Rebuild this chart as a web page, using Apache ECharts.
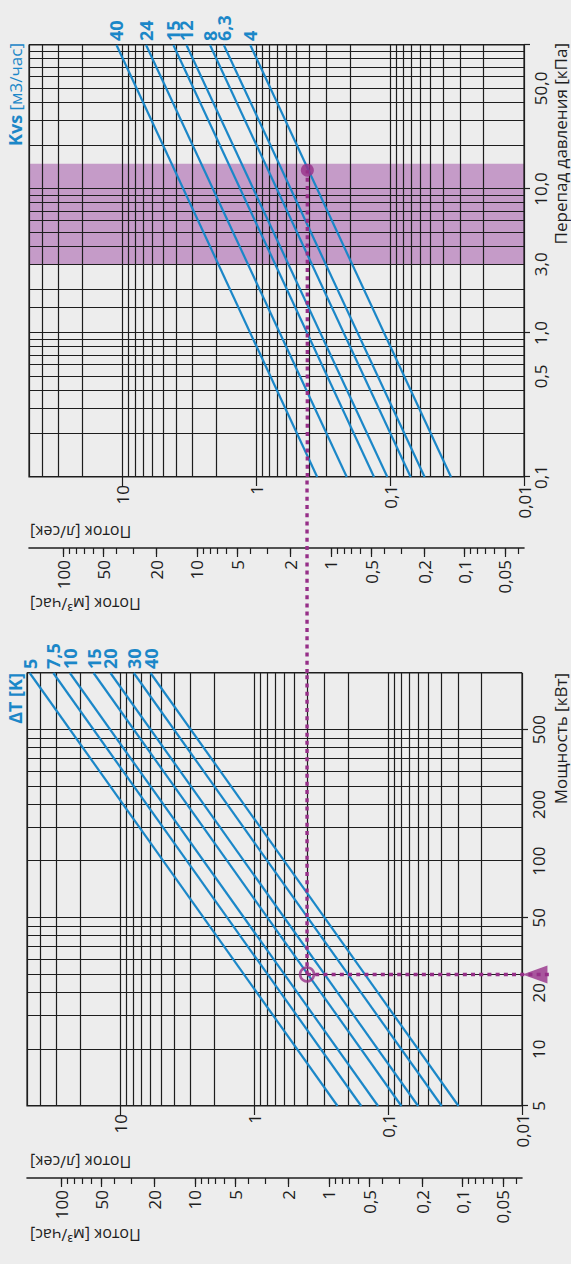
<!DOCTYPE html>
<html>
<head>
<meta charset="utf-8">
<script src="https://cdn.jsdelivr.net/npm/echarts@6/dist/echarts.min.js"></script>
<style>
html, body { margin: 0; padding: 0; background: #ededed; overflow: hidden; }
/* chart is laid out landscape and turned a quarter turn, like the printed nomogram */
#wrap { position: absolute; left: 0; top: 0; width: 1264px; height: 571px;
        transform-origin: 0 0; transform: translateY(1264px) rotate(-90deg); }
</style>
</head>
<body>
<div id="wrap"></div>
<script>
// ---- axis values ----
var powerGrid = [5, 10, 15, 20, 25, 30, 35, 40, 45, 50, 100, 150, 200, 250, 300, 350, 400, 450, 500, 1000];
var powerTicks = [5, 50, 500];
var powerLabels = [5, 10, 20, 50, 100, 200, 500];
var flowGrid = [0.01, 0.02, 0.03, 0.04, 0.05, 0.06, 0.07, 0.08, 0.09, 0.1, 0.2, 0.3, 0.4, 0.5, 0.6, 0.7, 0.8, 0.9,
                1, 2, 3, 4, 5, 6, 7, 8, 9, 10, 20, 30, 40, 50];
var flowLabels = [0.01, 0.1, 1, 10];
var m3hMinor = [0.04, 0.05, 0.06, 0.07, 0.08, 0.09, 0.1, 0.2, 0.3, 0.4, 0.5, 0.6, 0.7, 0.8, 0.9,
                1, 2, 3, 4, 5, 6, 7, 8, 9, 10, 20, 30, 40, 50, 60, 70, 80, 90, 100];
var m3hLabels = [0.05, 0.1, 0.2, 0.5, 1, 2, 5, 10, 20, 50, 100];
var pressureGrid = [0.1, 0.2, 0.3, 0.4, 0.5, 0.6, 0.7, 0.8, 0.9, 1, 1.5, 2, 3, 4, 5, 6, 7, 8, 9,
                    10, 20, 30, 40, 50, 60, 70, 80, 90, 100];
var pressureTicks = [0.1, 1, 10, 100];
var pressureLabels = [0.1, 0.5, 1, 3, 10, 50];

// ---- lines ----
var dtNames = ['5', '7,5', '10', '15', '20', '30', '40'];
var dtFlowAt5kW = [0.239, 0.159, 0.119, 0.0796, 0.0597, 0.0398, 0.0298];
var dtFlowAt1000kW = [47.7, 31.8, 23.9, 15.9, 11.9, 7.96, 5.97];
var kvsNames = ['40', '24', '15', '12', '8', '6,3', '4'];
var kvsFlowAt01kPa = [0.351, 0.211, 0.132, 0.105, 0.0703, 0.0553, 0.0351];
var kvsFlowAt100kPa = [11.1, 6.67, 4.17, 3.33, 2.22, 1.75, 1.11];
var bandPressure = [3, 15];

// ---- worked example ----
var markPower = 25;
var markFlow = [0.404, 0.416];   // read on left / right panel
var markPressure = 13.5;
var arrowFlow = 0.008;
var arrowTailFlow = 0.0061;

var FONT = '"Open Sans", "Noto Sans", sans-serif';
var INK = '#1e1e1e';
var BLUE = '#1b87c8';
var PURPLE = '#962f88';
var BAND = '#c59bc8';
var TICK_FS = 17;

function comma(v) { return String(+(+v).toPrecision(6)).replace('.', ','); }
function comma1(v) { return (+v).toFixed(1).replace('.', ','); }

function gridAxis(gi, min, max, vals, extra) {
  return Object.assign({
    type: 'log', logBase: 10, gridIndex: gi, min: min, max: max,
    axisLine: { show: false },
    axisTick: { show: false, customValues: vals },
    axisLabel: { show: false },
    splitLine: { show: true, customValues: vals, lineStyle: { color: INK, width: 1.2 } }
  }, extra);
}
function labelAxis(gi, min, max, ticks, labels, fmt, tickLen, margin, extra) {
  return Object.assign({
    type: 'log', logBase: 10, gridIndex: gi, min: min, max: max,
    axisLine: { show: false },
    axisTick: { show: true, customValues: ticks, length: tickLen, lineStyle: { color: INK, width: 1.2 } },
    axisLabel: { show: true, customValues: labels, formatter: fmt, margin: margin,
                 color: INK, fontSize: TICK_FS, fontFamily: FONT },
    splitLine: { show: false }
  }, extra);
}
function m3hAxis(gi, offset, major) {
  return {
    type: 'log', logBase: 10, gridIndex: gi, min: 0.036, max: 180, position: 'left', offset: offset,
    axisLine: { show: !major, lineStyle: { color: INK, width: 1.6 } },
    axisTick: { show: true, customValues: major ? m3hLabels : m3hMinor, length: major ? 9 : 6,
                lineStyle: { color: INK, width: 1.2 } },
    axisLabel: { show: major, customValues: m3hLabels, formatter: comma, margin: 12,
                 color: INK, fontSize: TICK_FS, fontFamily: FONT },
    splitLine: { show: false }
  };
}

var chart = echarts.init(document.getElementById('wrap'), null, { renderer: 'svg' });

var series = [];
dtNames.forEach(function (name, i) {
  series.push({
    type: 'line', name: 'dT ' + name, xAxisIndex: 0, yAxisIndex: 0,
    data: [[5, dtFlowAt5kW[i]], [1000, dtFlowAt1000kW[i]]],
    symbol: 'none', silent: true, z: 3,
    lineStyle: { color: BLUE, width: 2.2 },
    endLabel: { show: true, formatter: name, color: BLUE, fontWeight: 'bold', fontSize: 18,
                fontFamily: FONT, distance: 4 }
  });
});
kvsNames.forEach(function (name, i) {
  series.push({
    type: 'line', name: 'Kvs ' + name, xAxisIndex: 2, yAxisIndex: 4,
    data: [[0.1, kvsFlowAt01kPa[i]], [100, kvsFlowAt100kPa[i]]],
    symbol: 'none', silent: true, z: 3,
    lineStyle: { color: BLUE, width: 2.2 },
    endLabel: { show: true, formatter: name, color: BLUE, fontWeight: 'bold', fontSize: 18,
                fontFamily: FONT, distance: 4 }
  });
});

// recommended pressure band, under the grid lines
series.push({
  type: 'custom', xAxisIndex: 2, yAxisIndex: 4, z: -1, silent: true,
  data: [[bandPressure[0], bandPressure[1]]],
  renderItem: function (params, api) {
    var a = api.coord([api.value(0), 50]);
    var b = api.coord([api.value(1), 0.01]);
    return { type: 'rect', shape: { x: a[0], y: a[1], width: b[0] - a[0], height: b[1] - a[1] },
             style: { fill: BAND } };
  }
});

var dotted = { color: PURPLE, width: 3.4, type: [4, 4.2], cap: 'butt' };
series.push(
  { type: 'line', xAxisIndex: 0, yAxisIndex: 0, clip: false, symbol: 'none', silent: true, z: 6,
    data: [[markPower, markFlow[0]], [markPower, arrowTailFlow]], lineStyle: dotted },
  { type: 'line', xAxisIndex: 0, yAxisIndex: 0, symbol: 'none', silent: true, z: 6,
    data: [[markPower, markFlow[0]], [1000, markFlow[0]]], lineStyle: dotted },
  { type: 'line', xAxisIndex: 4, yAxisIndex: 8, symbol: 'none', silent: true, z: 6,
    data: [[0, markFlow[0]], [1, markFlow[0]]], lineStyle: dotted },
  { type: 'line', xAxisIndex: 2, yAxisIndex: 4, symbol: 'none', silent: true, z: 6,
    data: [[0.1, markFlow[1]], [markPressure, markFlow[1]]], lineStyle: dotted },
  { type: 'scatter', xAxisIndex: 0, yAxisIndex: 0, clip: false, silent: true, z: 7,
    data: [[markPower, arrowFlow]], symbol: 'triangle', symbolSize: [18, 25],
    itemStyle: { color: PURPLE } },
  { type: 'scatter', xAxisIndex: 0, yAxisIndex: 0, silent: true, z: 7,
    data: [[markPower, markFlow[0]]], symbol: 'circle', symbolSize: 14,
    itemStyle: { color: 'rgba(0,0,0,0)', borderColor: PURPLE, borderWidth: 2.6 } },
  { type: 'scatter', xAxisIndex: 2, yAxisIndex: 4, silent: true, z: 7,
    data: [[markPressure, markFlow[1]]], symbol: 'circle', symbolSize: 13,
    itemStyle: { color: PURPLE } }
);

function vname(x, text) {
  return { type: 'text', x: x, y: 30, rotation: Math.PI / 2,
           style: { text: text, fill: INK, fontSize: 16, fontFamily: FONT, align: 'right', verticalAlign: 'middle' } };
}

chart.setOption({
  animation: false,
  textStyle: { fontFamily: FONT },
  grid: [
    { left: 158, top: 27, width: 433, height: 495, show: true, borderColor: INK, borderWidth: 1.2,
      backgroundColor: 'transparent', containLabel: false, outerBoundsMode: 'none' },
    { left: 787, top: 29, width: 432, height: 495, show: true, borderColor: INK, borderWidth: 1.2,
      backgroundColor: 'transparent', containLabel: false, outerBoundsMode: 'none' },
    { left: 591, top: 27, width: 196, height: 495, show: false, containLabel: false, outerBoundsMode: 'none' }
  ],
  xAxis: [
    gridAxis(0, 5, 1000, powerGrid, { position: 'bottom' }),
    labelAxis(0, 5, 1000, powerTicks, powerLabels, comma, 6, 8, { position: 'bottom' }),
    gridAxis(1, 0.1, 100, pressureGrid, { position: 'bottom' }),
    labelAxis(1, 0.1, 100, pressureTicks, pressureLabels, comma1, 6, 8, { position: 'bottom' }),
    { type: 'value', gridIndex: 2, min: 0, max: 1, show: false }
  ],
  yAxis: [
    gridAxis(0, 0.01, 50, flowGrid, { position: 'left' }),
    labelAxis(0, 0.01, 50, flowLabels, flowLabels, comma, 9, 8, { position: 'left' }),
    m3hAxis(0, 72, false),
    m3hAxis(0, 72, true),
    gridAxis(1, 0.01, 50, flowGrid, { position: 'left' }),
    labelAxis(1, 0.01, 50, flowLabels, flowLabels, comma, 9, 8, { position: 'left' }),
    m3hAxis(1, 71, false),
    m3hAxis(1, 71, true),
    { type: 'log', gridIndex: 2, min: 0.01, max: 50, show: false }
  ],
  graphic: [
    vname(29, 'Поток [м³/час]'),
    vname(102, 'Поток [л/сек]'),
    vname(660, 'Поток [м³/час]'),
    vname(732, 'Поток [л/сек]'),
    { type: 'text', x: 591, y: 552,
      style: { text: 'Мощность [кВт]', fill: INK, fontSize: 17, fontFamily: FONT, align: 'right', verticalAlign: 'top' } },
    { type: 'text', x: 1221, y: 552,
      style: { text: 'Перепад давления [кПа]', fill: INK, fontSize: 17, fontFamily: FONT, align: 'right', verticalAlign: 'top' } },
    { type: 'text', x: 591, y: 15,
      style: { text: 'ΔT [K]', fill: BLUE, fontSize: 18, fontWeight: 'bold', fontFamily: FONT, align: 'right', verticalAlign: 'middle' } },
    { type: 'text', x: 1221, y: 15,
      style: { text: '{b|Kvs} [м3/час]', fill: BLUE, fontSize: 17, fontFamily: FONT, align: 'right', verticalAlign: 'middle',
               rich: { b: { fontWeight: 'bold', fontSize: 18, fill: BLUE, fontFamily: FONT } } } }
  ],
  series: series
});
</script>
</body>
</html>
